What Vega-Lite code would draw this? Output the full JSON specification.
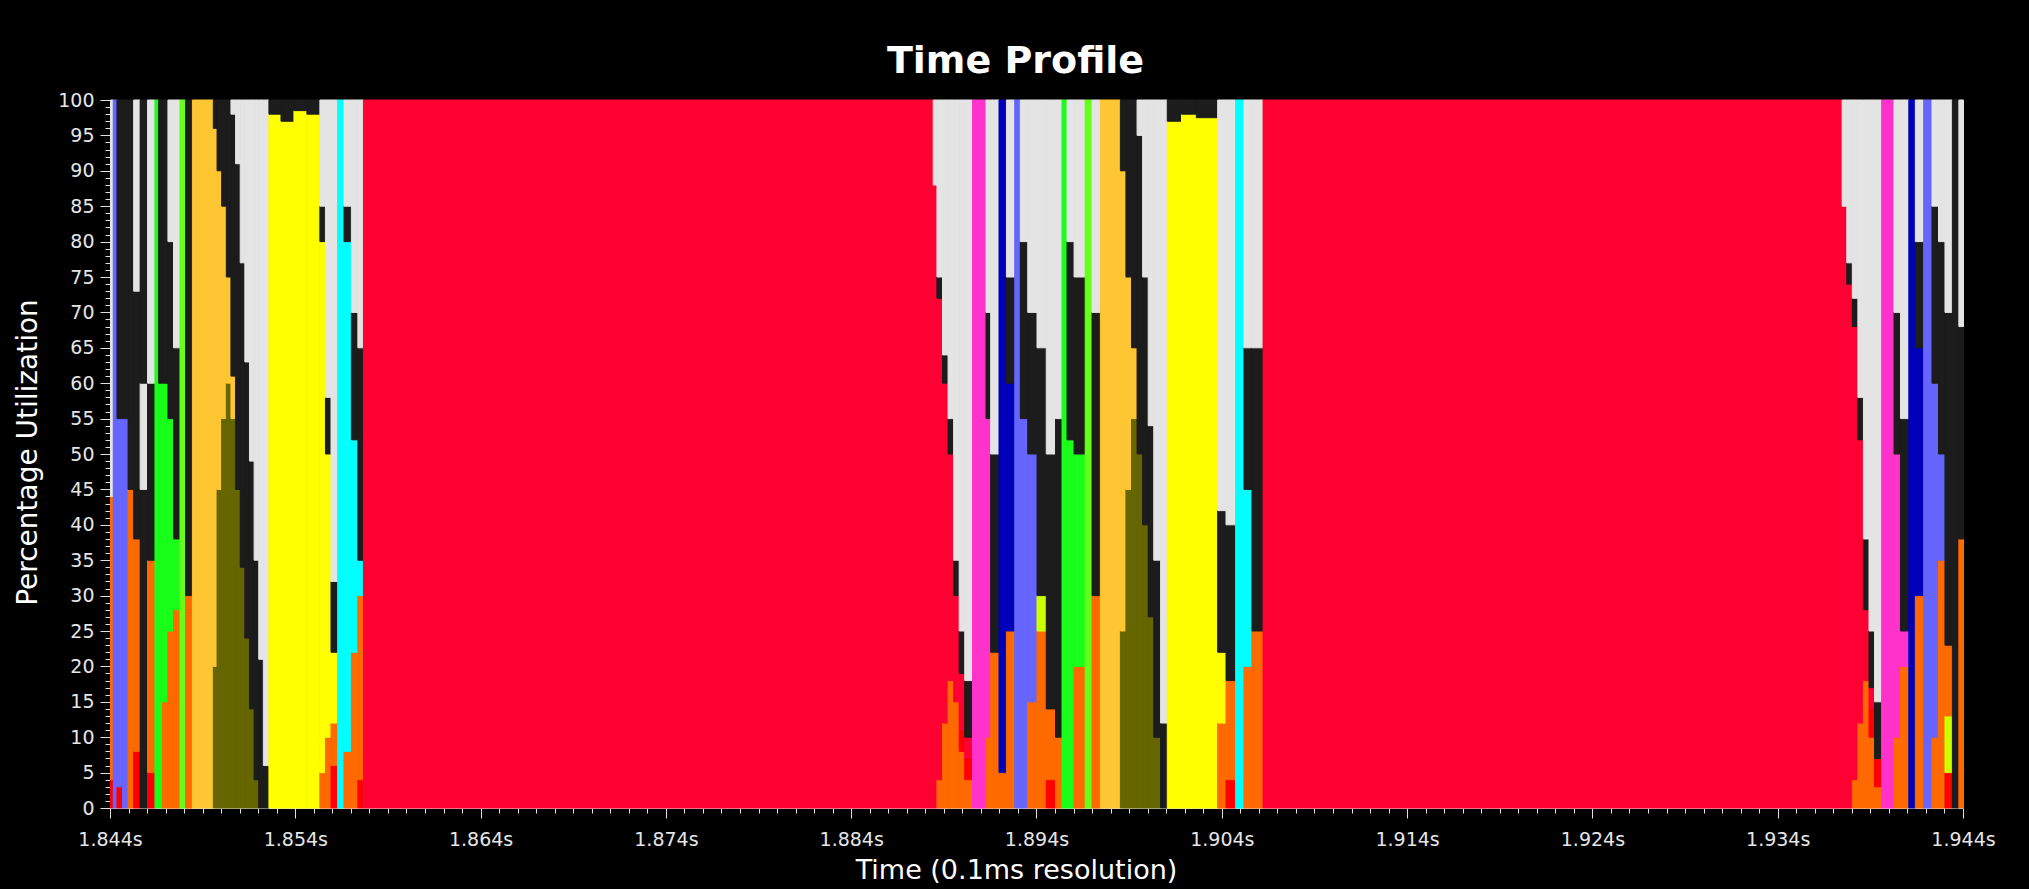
{
"$schema":"https://vega.github.io/schema/vega-lite/v6.json",
"autosize":{"type":"none"},
"padding":{"left":110,"top":100,"right":66,"bottom":81},
"width":1853,
"height":708,
"background":"#000000",
"config":{"view":{"stroke":null},"font":"DejaVu Sans"},
"title":{"text":"Time Profile","color":"#ffffff","fontSize":38,"font":"DejaVu Sans","fontWeight":"bold","anchor":"middle","dx":-21,"offset":10},
"data":{"values":[
{"start":1.844,"end":1.84415,"task":"red","pct":4,"rank":1},
{"start":1.844,"end":1.84415,"task":"orange","pct":40,"rank":2},
{"start":1.844,"end":1.84415,"task":"white","pct":56,"rank":3},
{"start":1.84415,"end":1.84435,"task":"blue","pct":100,"rank":1},
{"start":1.84435,"end":1.84465,"task":"red","pct":3,"rank":1},
{"start":1.84435,"end":1.84465,"task":"blue","pct":52,"rank":2},
{"start":1.84435,"end":1.84465,"task":"black","pct":45,"rank":3},
{"start":1.84465,"end":1.84495,"task":"blue","pct":55,"rank":1},
{"start":1.84465,"end":1.84495,"task":"black","pct":45,"rank":2},
{"start":1.84495,"end":1.84525,"task":"orange","pct":45,"rank":1},
{"start":1.84495,"end":1.84525,"task":"black","pct":55,"rank":2},
{"start":1.84525,"end":1.8456,"task":"red","pct":8,"rank":1},
{"start":1.84525,"end":1.8456,"task":"orange","pct":30,"rank":2},
{"start":1.84525,"end":1.8456,"task":"black","pct":35,"rank":3},
{"start":1.84525,"end":1.8456,"task":"white","pct":27,"rank":4},
{"start":1.8456,"end":1.846,"task":"black","pct":45,"rank":1},
{"start":1.8456,"end":1.846,"task":"white","pct":15,"rank":2},
{"start":1.8456,"end":1.846,"task":"black","pct":40,"rank":3},
{"start":1.846,"end":1.8464,"task":"red","pct":5,"rank":1},
{"start":1.846,"end":1.8464,"task":"orange","pct":30,"rank":2},
{"start":1.846,"end":1.8464,"task":"black","pct":25,"rank":3},
{"start":1.846,"end":1.8464,"task":"white","pct":40,"rank":4},
{"start":1.8464,"end":1.8466,"task":"green","pct":100,"rank":1},
{"start":1.8466,"end":1.8468,"task":"green","pct":60,"rank":1},
{"start":1.8466,"end":1.8468,"task":"black","pct":40,"rank":2},
{"start":1.8468,"end":1.8471,"task":"orange","pct":15,"rank":1},
{"start":1.8468,"end":1.8471,"task":"green","pct":45,"rank":2},
{"start":1.8468,"end":1.8471,"task":"black","pct":40,"rank":3},
{"start":1.8471,"end":1.8474,"task":"orange","pct":25,"rank":1},
{"start":1.8471,"end":1.8474,"task":"green","pct":30,"rank":2},
{"start":1.8471,"end":1.8474,"task":"black","pct":25,"rank":3},
{"start":1.8471,"end":1.8474,"task":"white","pct":20,"rank":4},
{"start":1.8474,"end":1.84775,"task":"orange","pct":28,"rank":1},
{"start":1.8474,"end":1.84775,"task":"green","pct":10,"rank":2},
{"start":1.8474,"end":1.84775,"task":"black","pct":27,"rank":3},
{"start":1.8474,"end":1.84775,"task":"white","pct":35,"rank":4},
{"start":1.84775,"end":1.84805,"task":"lime","pct":100,"rank":1},
{"start":1.84805,"end":1.84842,"task":"orange","pct":30,"rank":1},
{"start":1.84805,"end":1.84842,"task":"black","pct":70,"rank":2},
{"start":1.84842,"end":1.84955,"task":"amber","pct":100,"rank":1},
{"start":1.84955,"end":1.84975,"task":"olive","pct":20,"rank":1},
{"start":1.84955,"end":1.84975,"task":"amber","pct":76,"rank":2},
{"start":1.84955,"end":1.84975,"task":"black","pct":4,"rank":3},
{"start":1.84975,"end":1.85,"task":"olive","pct":45,"rank":1},
{"start":1.84975,"end":1.85,"task":"amber","pct":45,"rank":2},
{"start":1.84975,"end":1.85,"task":"black","pct":10,"rank":3},
{"start":1.85,"end":1.85025,"task":"olive","pct":55,"rank":1},
{"start":1.85,"end":1.85025,"task":"amber","pct":30,"rank":2},
{"start":1.85,"end":1.85025,"task":"black","pct":15,"rank":3},
{"start":1.85025,"end":1.8505,"task":"olive","pct":60,"rank":1},
{"start":1.85025,"end":1.8505,"task":"amber","pct":15,"rank":2},
{"start":1.85025,"end":1.8505,"task":"black","pct":25,"rank":3},
{"start":1.8505,"end":1.85075,"task":"olive","pct":55,"rank":1},
{"start":1.8505,"end":1.85075,"task":"amber","pct":6,"rank":2},
{"start":1.8505,"end":1.85075,"task":"black","pct":37,"rank":3},
{"start":1.8505,"end":1.85075,"task":"white","pct":2,"rank":4},
{"start":1.85075,"end":1.851,"task":"olive","pct":45,"rank":1},
{"start":1.85075,"end":1.851,"task":"black","pct":46,"rank":2},
{"start":1.85075,"end":1.851,"task":"white","pct":9,"rank":3},
{"start":1.851,"end":1.85125,"task":"olive","pct":34,"rank":1},
{"start":1.851,"end":1.85125,"task":"black","pct":43,"rank":2},
{"start":1.851,"end":1.85125,"task":"white","pct":23,"rank":3},
{"start":1.85125,"end":1.8515,"task":"olive","pct":24,"rank":1},
{"start":1.85125,"end":1.8515,"task":"black","pct":39,"rank":2},
{"start":1.85125,"end":1.8515,"task":"white","pct":37,"rank":3},
{"start":1.8515,"end":1.85175,"task":"olive","pct":14,"rank":1},
{"start":1.8515,"end":1.85175,"task":"black","pct":35,"rank":2},
{"start":1.8515,"end":1.85175,"task":"white","pct":51,"rank":3},
{"start":1.85175,"end":1.852,"task":"olive","pct":4,"rank":1},
{"start":1.85175,"end":1.852,"task":"black","pct":31,"rank":2},
{"start":1.85175,"end":1.852,"task":"white","pct":65,"rank":3},
{"start":1.852,"end":1.85225,"task":"black","pct":21,"rank":1},
{"start":1.852,"end":1.85225,"task":"white","pct":79,"rank":2},
{"start":1.85225,"end":1.85255,"task":"black","pct":6,"rank":1},
{"start":1.85225,"end":1.85255,"task":"white","pct":94,"rank":2},
{"start":1.85255,"end":1.8532,"task":"yellow","pct":98,"rank":1},
{"start":1.85255,"end":1.8532,"task":"black","pct":2,"rank":2},
{"start":1.8532,"end":1.8539,"task":"yellow","pct":97,"rank":1},
{"start":1.8532,"end":1.8539,"task":"black","pct":3,"rank":2},
{"start":1.8539,"end":1.8546,"task":"yellow","pct":98.5,"rank":1},
{"start":1.8539,"end":1.8546,"task":"black","pct":1.5,"rank":2},
{"start":1.8546,"end":1.8553,"task":"yellow","pct":98,"rank":1},
{"start":1.8546,"end":1.8553,"task":"black","pct":2,"rank":2},
{"start":1.8553,"end":1.8556,"task":"orange","pct":5,"rank":1},
{"start":1.8553,"end":1.8556,"task":"yellow","pct":75,"rank":2},
{"start":1.8553,"end":1.8556,"task":"black","pct":5,"rank":3},
{"start":1.8553,"end":1.8556,"task":"white","pct":15,"rank":4},
{"start":1.8556,"end":1.8559,"task":"orange","pct":10,"rank":1},
{"start":1.8556,"end":1.8559,"task":"yellow","pct":40,"rank":2},
{"start":1.8556,"end":1.8559,"task":"black","pct":8,"rank":3},
{"start":1.8556,"end":1.8559,"task":"white","pct":42,"rank":4},
{"start":1.8559,"end":1.85626,"task":"red","pct":6,"rank":1},
{"start":1.8559,"end":1.85626,"task":"orange","pct":6,"rank":2},
{"start":1.8559,"end":1.85626,"task":"yellow","pct":10,"rank":3},
{"start":1.8559,"end":1.85626,"task":"black","pct":10,"rank":4},
{"start":1.8559,"end":1.85626,"task":"white","pct":68,"rank":5},
{"start":1.85626,"end":1.8566,"task":"cyan","pct":100,"rank":1},
{"start":1.8566,"end":1.857,"task":"orange","pct":8,"rank":1},
{"start":1.8566,"end":1.857,"task":"cyan","pct":72,"rank":2},
{"start":1.8566,"end":1.857,"task":"black","pct":5,"rank":3},
{"start":1.8566,"end":1.857,"task":"white","pct":15,"rank":4},
{"start":1.857,"end":1.85735,"task":"orange","pct":22,"rank":1},
{"start":1.857,"end":1.85735,"task":"cyan","pct":30,"rank":2},
{"start":1.857,"end":1.85735,"task":"black","pct":18,"rank":3},
{"start":1.857,"end":1.85735,"task":"white","pct":30,"rank":4},
{"start":1.85735,"end":1.85765,"task":"red","pct":4,"rank":1},
{"start":1.85735,"end":1.85765,"task":"orange","pct":26,"rank":2},
{"start":1.85735,"end":1.85765,"task":"cyan","pct":5,"rank":3},
{"start":1.85735,"end":1.85765,"task":"black","pct":30,"rank":4},
{"start":1.85735,"end":1.85765,"task":"white","pct":35,"rank":5},
{"start":1.85765,"end":1.8884,"task":"crimson","pct":100,"rank":1},
{"start":1.8884,"end":1.8886,"task":"crimson","pct":88,"rank":1},
{"start":1.8884,"end":1.8886,"task":"white","pct":12,"rank":2},
{"start":1.8886,"end":1.8889,"task":"orange","pct":4,"rank":1},
{"start":1.8886,"end":1.8889,"task":"crimson","pct":68,"rank":2},
{"start":1.8886,"end":1.8889,"task":"black","pct":3,"rank":3},
{"start":1.8886,"end":1.8889,"task":"white","pct":25,"rank":4},
{"start":1.8889,"end":1.8892,"task":"orange","pct":12,"rank":1},
{"start":1.8889,"end":1.8892,"task":"crimson","pct":48,"rank":2},
{"start":1.8889,"end":1.8892,"task":"black","pct":4,"rank":3},
{"start":1.8889,"end":1.8892,"task":"white","pct":36,"rank":4},
{"start":1.8892,"end":1.8895,"task":"orange","pct":18,"rank":1},
{"start":1.8892,"end":1.8895,"task":"crimson","pct":32,"rank":2},
{"start":1.8892,"end":1.8895,"task":"black","pct":5,"rank":3},
{"start":1.8892,"end":1.8895,"task":"white","pct":45,"rank":4},
{"start":1.8895,"end":1.8898,"task":"orange","pct":15,"rank":1},
{"start":1.8895,"end":1.8898,"task":"crimson","pct":15,"rank":2},
{"start":1.8895,"end":1.8898,"task":"black","pct":5,"rank":3},
{"start":1.8895,"end":1.8898,"task":"white","pct":65,"rank":4},
{"start":1.8898,"end":1.8901,"task":"orange","pct":8,"rank":1},
{"start":1.8898,"end":1.8901,"task":"red","pct":3,"rank":2},
{"start":1.8898,"end":1.8901,"task":"crimson","pct":8,"rank":3},
{"start":1.8898,"end":1.8901,"task":"black","pct":6,"rank":4},
{"start":1.8898,"end":1.8901,"task":"white","pct":75,"rank":5},
{"start":1.8901,"end":1.89052,"task":"orange","pct":4,"rank":1},
{"start":1.8901,"end":1.89052,"task":"red","pct":3,"rank":2},
{"start":1.8901,"end":1.89052,"task":"crimson","pct":3,"rank":3},
{"start":1.8901,"end":1.89052,"task":"black","pct":8,"rank":4},
{"start":1.8901,"end":1.89052,"task":"white","pct":82,"rank":5},
{"start":1.89052,"end":1.89125,"task":"pink","pct":100,"rank":1},
{"start":1.89125,"end":1.8915,"task":"orange","pct":10,"rank":1},
{"start":1.89125,"end":1.8915,"task":"pink","pct":45,"rank":2},
{"start":1.89125,"end":1.8915,"task":"black","pct":15,"rank":3},
{"start":1.89125,"end":1.8915,"task":"white","pct":30,"rank":4},
{"start":1.8915,"end":1.89195,"task":"orange","pct":22,"rank":1},
{"start":1.8915,"end":1.89195,"task":"black","pct":28,"rank":2},
{"start":1.8915,"end":1.89195,"task":"white","pct":50,"rank":3},
{"start":1.89195,"end":1.89235,"task":"orange","pct":5,"rank":1},
{"start":1.89195,"end":1.89235,"task":"navy","pct":95,"rank":2},
{"start":1.89235,"end":1.8928,"task":"orange","pct":25,"rank":1},
{"start":1.89235,"end":1.8928,"task":"navy","pct":35,"rank":2},
{"start":1.89235,"end":1.8928,"task":"black","pct":15,"rank":3},
{"start":1.89235,"end":1.8928,"task":"white","pct":25,"rank":4},
{"start":1.8928,"end":1.8931,"task":"blue","pct":100,"rank":1},
{"start":1.8931,"end":1.8935,"task":"blue","pct":55,"rank":1},
{"start":1.8931,"end":1.8935,"task":"black","pct":25,"rank":2},
{"start":1.8931,"end":1.8935,"task":"white","pct":20,"rank":3},
{"start":1.8935,"end":1.894,"task":"orange","pct":15,"rank":1},
{"start":1.8935,"end":1.894,"task":"blue","pct":35,"rank":2},
{"start":1.8935,"end":1.894,"task":"black","pct":20,"rank":3},
{"start":1.8935,"end":1.894,"task":"white","pct":30,"rank":4},
{"start":1.894,"end":1.8945,"task":"orange","pct":25,"rank":1},
{"start":1.894,"end":1.8945,"task":"chartreuse","pct":5,"rank":2},
{"start":1.894,"end":1.8945,"task":"black","pct":35,"rank":3},
{"start":1.894,"end":1.8945,"task":"white","pct":35,"rank":4},
{"start":1.8945,"end":1.895,"task":"red","pct":4,"rank":1},
{"start":1.8945,"end":1.895,"task":"orange","pct":10,"rank":2},
{"start":1.8945,"end":1.895,"task":"black","pct":36,"rank":3},
{"start":1.8945,"end":1.895,"task":"white","pct":50,"rank":4},
{"start":1.895,"end":1.89535,"task":"orange","pct":10,"rank":1},
{"start":1.895,"end":1.89535,"task":"black","pct":45,"rank":2},
{"start":1.895,"end":1.89535,"task":"white","pct":45,"rank":3},
{"start":1.89535,"end":1.89562,"task":"green","pct":100,"rank":1},
{"start":1.89562,"end":1.896,"task":"green","pct":52,"rank":1},
{"start":1.89562,"end":1.896,"task":"black","pct":28,"rank":2},
{"start":1.89562,"end":1.896,"task":"white","pct":20,"rank":3},
{"start":1.896,"end":1.8966,"task":"orange","pct":20,"rank":1},
{"start":1.896,"end":1.8966,"task":"green","pct":30,"rank":2},
{"start":1.896,"end":1.8966,"task":"black","pct":25,"rank":3},
{"start":1.896,"end":1.8966,"task":"white","pct":25,"rank":4},
{"start":1.8966,"end":1.89697,"task":"lime","pct":100,"rank":1},
{"start":1.89697,"end":1.89742,"task":"orange","pct":30,"rank":1},
{"start":1.89697,"end":1.89742,"task":"black","pct":40,"rank":2},
{"start":1.89697,"end":1.89742,"task":"white","pct":30,"rank":3},
{"start":1.89742,"end":1.8985,"task":"amber","pct":100,"rank":1},
{"start":1.8985,"end":1.8988,"task":"olive","pct":25,"rank":1},
{"start":1.8985,"end":1.8988,"task":"amber","pct":65,"rank":2},
{"start":1.8985,"end":1.8988,"task":"black","pct":10,"rank":3},
{"start":1.8988,"end":1.8991,"task":"olive","pct":45,"rank":1},
{"start":1.8988,"end":1.8991,"task":"amber","pct":30,"rank":2},
{"start":1.8988,"end":1.8991,"task":"black","pct":25,"rank":3},
{"start":1.8991,"end":1.8994,"task":"olive","pct":55,"rank":1},
{"start":1.8991,"end":1.8994,"task":"amber","pct":10,"rank":2},
{"start":1.8991,"end":1.8994,"task":"black","pct":35,"rank":3},
{"start":1.8994,"end":1.8997,"task":"olive","pct":50,"rank":1},
{"start":1.8994,"end":1.8997,"task":"black","pct":45,"rank":2},
{"start":1.8994,"end":1.8997,"task":"white","pct":5,"rank":3},
{"start":1.8997,"end":1.9,"task":"olive","pct":40,"rank":1},
{"start":1.8997,"end":1.9,"task":"black","pct":35,"rank":2},
{"start":1.8997,"end":1.9,"task":"white","pct":25,"rank":3},
{"start":1.9,"end":1.9003,"task":"olive","pct":27,"rank":1},
{"start":1.9,"end":1.9003,"task":"black","pct":27,"rank":2},
{"start":1.9,"end":1.9003,"task":"white","pct":46,"rank":3},
{"start":1.9003,"end":1.90067,"task":"olive","pct":10,"rank":1},
{"start":1.9003,"end":1.90067,"task":"black","pct":25,"rank":2},
{"start":1.9003,"end":1.90067,"task":"white","pct":65,"rank":3},
{"start":1.90067,"end":1.90103,"task":"black","pct":12,"rank":1},
{"start":1.90067,"end":1.90103,"task":"white","pct":88,"rank":2},
{"start":1.90103,"end":1.9018,"task":"yellow","pct":97,"rank":1},
{"start":1.90103,"end":1.9018,"task":"black","pct":3,"rank":2},
{"start":1.9018,"end":1.9026,"task":"yellow","pct":98,"rank":1},
{"start":1.9018,"end":1.9026,"task":"black","pct":2,"rank":2},
{"start":1.9026,"end":1.90375,"task":"yellow","pct":97.5,"rank":1},
{"start":1.9026,"end":1.90375,"task":"black","pct":2.5,"rank":2},
{"start":1.90375,"end":1.9042,"task":"orange","pct":12,"rank":1},
{"start":1.90375,"end":1.9042,"task":"yellow","pct":10,"rank":2},
{"start":1.90375,"end":1.9042,"task":"black","pct":20,"rank":3},
{"start":1.90375,"end":1.9042,"task":"white","pct":58,"rank":4},
{"start":1.9042,"end":1.90472,"task":"red","pct":4,"rank":1},
{"start":1.9042,"end":1.90472,"task":"orange","pct":14,"rank":2},
{"start":1.9042,"end":1.90472,"task":"black","pct":22,"rank":3},
{"start":1.9042,"end":1.90472,"task":"white","pct":60,"rank":4},
{"start":1.90472,"end":1.90517,"task":"cyan","pct":100,"rank":1},
{"start":1.90517,"end":1.9056,"task":"orange","pct":20,"rank":1},
{"start":1.90517,"end":1.9056,"task":"cyan","pct":25,"rank":2},
{"start":1.90517,"end":1.9056,"task":"black","pct":20,"rank":3},
{"start":1.90517,"end":1.9056,"task":"white","pct":35,"rank":4},
{"start":1.9056,"end":1.9062,"task":"orange","pct":25,"rank":1},
{"start":1.9056,"end":1.9062,"task":"black","pct":40,"rank":2},
{"start":1.9056,"end":1.9062,"task":"white","pct":35,"rank":3},
{"start":1.9062,"end":1.93745,"task":"crimson","pct":100,"rank":1},
{"start":1.93745,"end":1.9377,"task":"crimson","pct":85,"rank":1},
{"start":1.93745,"end":1.9377,"task":"white","pct":15,"rank":2},
{"start":1.9377,"end":1.938,"task":"crimson","pct":74,"rank":1},
{"start":1.9377,"end":1.938,"task":"black","pct":3,"rank":2},
{"start":1.9377,"end":1.938,"task":"white","pct":23,"rank":3},
{"start":1.938,"end":1.9383,"task":"orange","pct":4,"rank":1},
{"start":1.938,"end":1.9383,"task":"crimson","pct":64,"rank":2},
{"start":1.938,"end":1.9383,"task":"black","pct":4,"rank":3},
{"start":1.938,"end":1.9383,"task":"white","pct":28,"rank":4},
{"start":1.9383,"end":1.9386,"task":"orange","pct":12,"rank":1},
{"start":1.9383,"end":1.9386,"task":"crimson","pct":40,"rank":2},
{"start":1.9383,"end":1.9386,"task":"black","pct":6,"rank":3},
{"start":1.9383,"end":1.9386,"task":"white","pct":42,"rank":4},
{"start":1.9386,"end":1.9389,"task":"orange","pct":18,"rank":1},
{"start":1.9386,"end":1.9389,"task":"crimson","pct":10,"rank":2},
{"start":1.9386,"end":1.9389,"task":"black","pct":10,"rank":3},
{"start":1.9386,"end":1.9389,"task":"white","pct":62,"rank":4},
{"start":1.9389,"end":1.9392,"task":"orange","pct":10,"rank":1},
{"start":1.9389,"end":1.9392,"task":"red","pct":4,"rank":2},
{"start":1.9389,"end":1.9392,"task":"crimson","pct":3,"rank":3},
{"start":1.9389,"end":1.9392,"task":"black","pct":8,"rank":4},
{"start":1.9389,"end":1.9392,"task":"white","pct":75,"rank":5},
{"start":1.9392,"end":1.93958,"task":"orange","pct":3,"rank":1},
{"start":1.9392,"end":1.93958,"task":"red","pct":4,"rank":2},
{"start":1.9392,"end":1.93958,"task":"black","pct":8,"rank":3},
{"start":1.9392,"end":1.93958,"task":"white","pct":85,"rank":4},
{"start":1.93958,"end":1.94025,"task":"pink","pct":100,"rank":1},
{"start":1.94025,"end":1.9406,"task":"orange","pct":10,"rank":1},
{"start":1.94025,"end":1.9406,"task":"pink","pct":40,"rank":2},
{"start":1.94025,"end":1.9406,"task":"black","pct":20,"rank":3},
{"start":1.94025,"end":1.9406,"task":"white","pct":30,"rank":4},
{"start":1.9406,"end":1.94105,"task":"orange","pct":20,"rank":1},
{"start":1.9406,"end":1.94105,"task":"pink","pct":5,"rank":2},
{"start":1.9406,"end":1.94105,"task":"black","pct":30,"rank":3},
{"start":1.9406,"end":1.94105,"task":"white","pct":45,"rank":4},
{"start":1.94105,"end":1.9414,"task":"navy","pct":100,"rank":1},
{"start":1.9414,"end":1.94185,"task":"orange","pct":30,"rank":1},
{"start":1.9414,"end":1.94185,"task":"navy","pct":35,"rank":2},
{"start":1.9414,"end":1.94185,"task":"black","pct":15,"rank":3},
{"start":1.9414,"end":1.94185,"task":"white","pct":20,"rank":4},
{"start":1.94185,"end":1.9423,"task":"blue","pct":100,"rank":1},
{"start":1.9423,"end":1.94265,"task":"orange","pct":10,"rank":1},
{"start":1.9423,"end":1.94265,"task":"blue","pct":50,"rank":2},
{"start":1.9423,"end":1.94265,"task":"black","pct":25,"rank":3},
{"start":1.9423,"end":1.94265,"task":"white","pct":15,"rank":4},
{"start":1.94265,"end":1.943,"task":"orange","pct":35,"rank":1},
{"start":1.94265,"end":1.943,"task":"blue","pct":15,"rank":2},
{"start":1.94265,"end":1.943,"task":"black","pct":30,"rank":3},
{"start":1.94265,"end":1.943,"task":"white","pct":20,"rank":4},
{"start":1.943,"end":1.9434,"task":"red","pct":5,"rank":1},
{"start":1.943,"end":1.9434,"task":"chartreuse","pct":8,"rank":2},
{"start":1.943,"end":1.9434,"task":"orange","pct":10,"rank":3},
{"start":1.943,"end":1.9434,"task":"black","pct":47,"rank":4},
{"start":1.943,"end":1.9434,"task":"white","pct":30,"rank":5},
{"start":1.9434,"end":1.94375,"task":"black","pct":100,"rank":1},
{"start":1.94375,"end":1.944,"task":"orange","pct":38,"rank":1},
{"start":1.94375,"end":1.944,"task":"black","pct":30,"rank":2},
{"start":1.94375,"end":1.944,"task":"white","pct":32,"rank":3}
]},
"mark":{"type":"bar","binSpacing":0,"strokeWidth":1},
"encoding":{
"x":{"field":"start","type":"quantitative","bin":"binned","scale":{"domain":[1.844,1.944],"nice":false,"zero":false},
"axis":{"values":[1.844,1.845,1.846,1.847,1.848,1.849,1.85,1.851,1.852,1.853,1.854,1.855,1.856,1.857,1.858,1.859,1.86,1.861,1.862,1.863,1.864,1.865,1.866,1.867,1.868,1.869,1.87,1.871,1.872,1.873,1.874,1.875,1.876,1.877,1.878,1.879,1.88,1.881,1.882,1.883,1.884,1.885,1.886,1.887,1.888,1.889,1.89,1.891,1.892,1.893,1.894,1.895,1.896,1.897,1.898,1.899,1.9,1.901,1.902,1.903,1.904,1.905,1.906,1.907,1.908,1.909,1.91,1.911,1.912,1.913,1.914,1.915,1.916,1.917,1.918,1.919,1.92,1.921,1.922,1.923,1.924,1.925,1.926,1.927,1.928,1.929,1.93,1.931,1.932,1.933,1.934,1.935,1.936,1.937,1.938,1.939,1.94,1.941,1.942,1.943,1.944],
"labelExpr":"round(datum.value*1000) % 10 === 4 ? format(datum.value, '.3f') + 's' : ''",
"tickSize":{"condition":{"test":"round(datum.value*1000) % 10 === 4","value":10},"value":5},
"labelOverlap":false,"labelFlush":false,"labelFontSize":19,"labelFont":"DejaVu Sans","labelColor":"#e6e6e6","labelPadding":12,
"domainColor":"#e0e0e0","tickColor":"#e0e0e0","grid":false,
"title":"Time (0.1ms resolution)","titleColor":"#ffffff","titleFontSize":27,"titleFont":"DejaVu Sans","titleFontWeight":"normal","titleX":906,"titleY":62,"titleBaseline":"middle","titleAlign":"center"}},
"x2":{"field":"end"},
"y":{"field":"pct","type":"quantitative","stack":"zero","scale":{"domain":[0,100],"nice":false},
"axis":{"values":[0,1,2,3,4,5,6,7,8,9,10,11,12,13,14,15,16,17,18,19,20,21,22,23,24,25,26,27,28,29,30,31,32,33,34,35,36,37,38,39,40,41,42,43,44,45,46,47,48,49,50,51,52,53,54,55,56,57,58,59,60,61,62,63,64,65,66,67,68,69,70,71,72,73,74,75,76,77,78,79,80,81,82,83,84,85,86,87,88,89,90,91,92,93,94,95,96,97,98,99,100],
"labelExpr":"datum.value % 5 === 0 ? datum.label : ''",
"tickSize":{"condition":{"test":"datum.value % 5 === 0","value":10},"value":5},
"labelOverlap":false,"labelFontSize":19,"labelFont":"DejaVu Sans","labelColor":"#e6e6e6","labelPadding":6,
"domainColor":"#e0e0e0","tickColor":"#e0e0e0","grid":false,
"title":"Percentage Utilization","titleColor":"#ffffff","titleFontSize":28,"titleFont":"DejaVu Sans","titleFontWeight":"normal","titleX":-82,"titleY":352,"titleBaseline":"middle","titleAlign":"center","titleAngle":-90}},
"color":{"field":"task","type":"nominal","legend":null,
"scale":{"domain":["crimson","white","black","blue","navy","green","lime","amber","olive","yellow","cyan","orange","red","pink","chartreuse"],
"range":["#ff0033","#e4e4e4","#1c1c1c","#6666ff","#0000b8","#19ff19","#66ff1a","#ffc633","#666600","#ffff00","#00ffff","#ff6a00","#ff0000","#ff33cc","#ccff00"]}},
"stroke":{"field":"task","type":"nominal","legend":null,
"scale":{"domain":["crimson","white","black","blue","navy","green","lime","amber","olive","yellow","cyan","orange","red","pink","chartreuse"],
"range":["#ff0033","#e4e4e4","#1c1c1c","#6666ff","#0000b8","#19ff19","#66ff1a","#ffc633","#666600","#ffff00","#00ffff","#ff6a00","#ff0000","#ff33cc","#ccff00"]}},
"order":{"field":"rank","type":"quantitative"}
}
}
